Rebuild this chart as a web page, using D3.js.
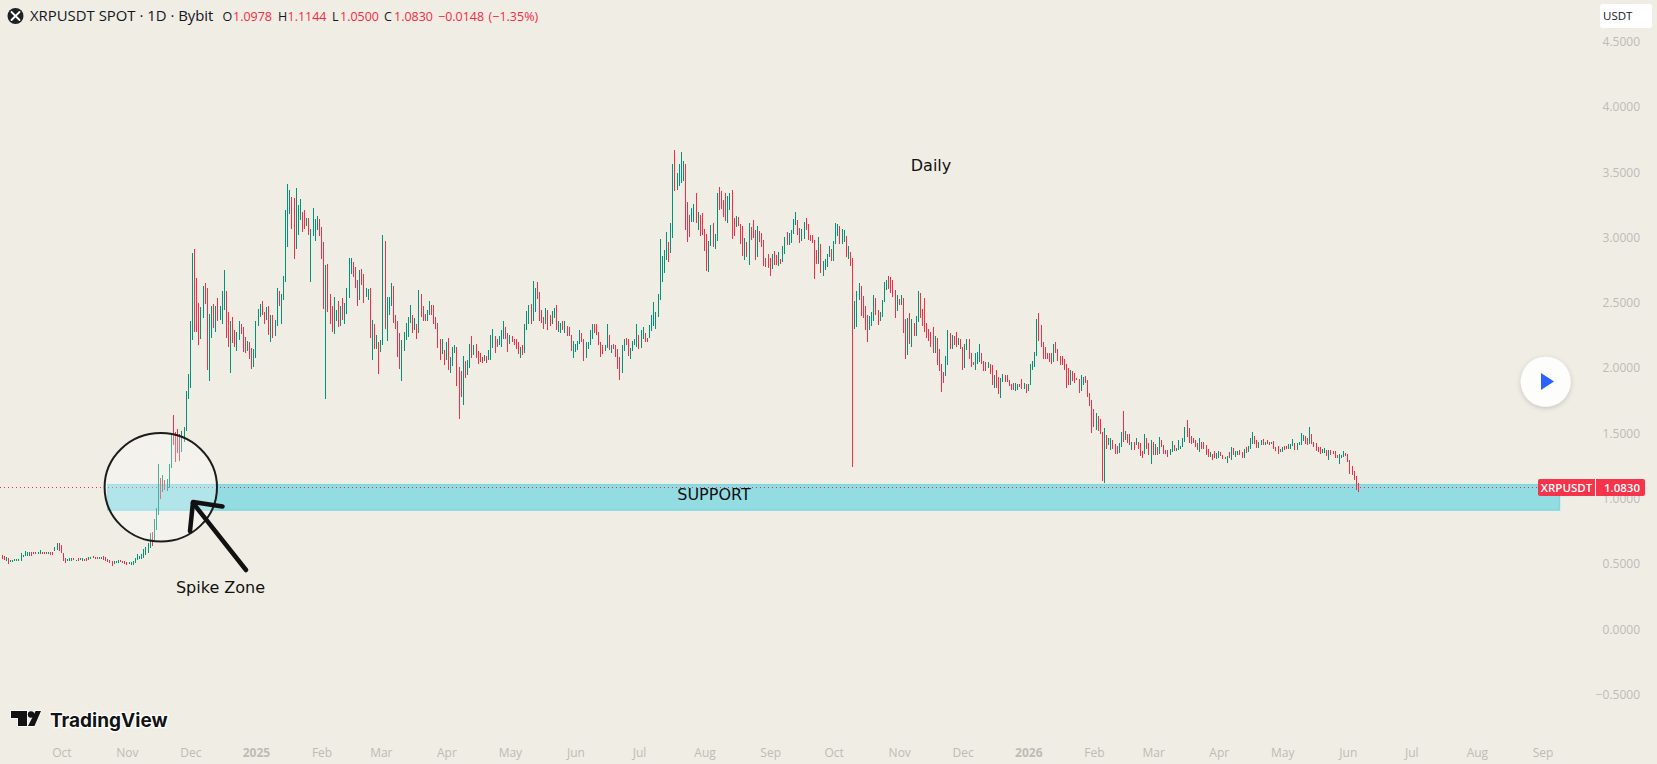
<!DOCTYPE html>
<html>
<head>
<meta charset="utf-8">
<script src="https://cdn.jsdelivr.net/npm/d3@7/dist/d3.min.js"></script>
<style>
  html, body { margin: 0; padding: 0; background: #f0ede5; overflow: hidden; }
  svg { display: block; font-family: "Open Sans", "Noto Sans", sans-serif; }
</style>
</head>
<body>
<svg id="chart" width="1657" height="764"></svg>
<script>
// Daily XRPUSDT ranges, one entry per session starting 2024-09-02
const highs = [
.567,.567,.561,.549,.546,.528,.531,.533,.536,.536,
.579,.569,.597,.590,.590,.590,.587,.592,.590,.607,
.592,.592,.590,.590,.587,.592,.630,.659,.654,.641,
.579,.541,.536,.541,.541,.544,.528,.544,.541,.541,
.538,.541,.554,.554,.559,.554,.551,.551,.549,.559,
.554,.536,.528,.523,.518,.523,.528,.526,.520,.520,
.510,.513,.510,.523,.546,.574,.559,.572,.613,.630,
.656,.733,.741,.843,.928,1.265,1.155,1.181,1.140,1.150,
1.265,1.493,1.634,1.511,1.531,1.496,1.519,1.549,1.818,1.955,
2.354,2.875,2.906,2.684,2.492,2.461,2.622,2.645,2.607,2.415,
2.469,2.484,2.476,2.530,2.476,2.591,2.745,2.591,2.430,2.354,
2.392,2.292,2.277,2.354,2.331,2.315,2.238,2.208,2.200,2.154,
2.146,2.354,2.453,2.484,2.507,2.430,2.461,2.469,2.400,2.400,
2.369,2.607,2.584,2.568,2.699,3.205,3.405,3.359,3.305,3.297,
3.374,3.244,3.290,3.190,3.205,3.144,3.144,3.060,3.221,3.136,
3.159,3.136,3.075,2.960,2.783,2.791,2.568,2.469,2.545,2.438,
2.507,2.476,2.530,2.499,2.607,2.837,2.837,2.806,2.768,2.668,
2.745,2.753,2.714,2.607,2.599,2.614,2.369,2.331,2.254,2.200,
2.215,3.014,2.967,2.538,2.538,2.645,2.622,2.407,2.354,2.262,
2.215,2.277,2.346,2.392,2.477,2.407,2.377,2.338,2.592,2.561,
2.469,2.415,2.438,2.507,2.477,2.477,2.392,2.346,2.223,2.216,
2.139,2.200,2.231,2.085,2.162,2.177,2.162,2.008,1.978,2.093,
2.054,2.062,2.185,2.246,2.177,2.185,2.131,2.116,2.085,2.101,
2.093,2.139,2.254,2.300,2.239,2.216,2.246,2.292,2.361,2.315,
2.262,2.254,2.239,2.223,2.216,2.200,2.162,2.170,2.331,2.431,
2.477,2.484,2.661,2.607,2.653,2.576,2.438,2.392,2.454,2.438,
2.407,2.431,2.454,2.477,2.361,2.346,2.361,2.354,2.323,2.315,
2.254,2.208,2.185,2.208,2.285,2.262,2.223,2.193,2.193,2.292,
2.331,2.331,2.338,2.277,2.193,2.177,2.177,2.338,2.254,2.177,
2.185,2.177,2.147,2.085,2.170,2.216,2.231,2.216,2.154,2.208,
2.223,2.331,2.254,2.292,2.315,2.269,2.231,2.33,2.40,2.50,
2.430,2.568,2.983,2.852,2.898,3.036,2.960,3.105,3.558,3.666,
3.489,3.558,3.650,3.581,3.558,3.267,3.167,3.220,3.251,3.336,
3.190,3.167,3.182,3.059,3.021,2.967,3.090,3.105,3.021,3.336,
3.382,3.351,3.282,3.336,3.313,3.336,3.359,3.144,3.159,3.151,
3.098,3.082,2.990,2.960,3.105,3.075,3.128,3.052,3.082,3.044,
3.029,2.975,2.837,2.867,2.837,2.867,2.890,2.860,2.883,2.829,
2.929,2.998,3.036,3.029,3.052,3.136,3.190,3.128,3.067,3.059,
3.113,3.144,3.098,3.013,3.013,2.975,2.898,2.998,2.944,2.814,
2.829,2.867,2.929,2.906,2.967,3.105,3.098,3.082,3.059,3.052,
3.006,2.929,2.883,2.837,2.508,2.584,2.646,2.623,2.546,2.469,
2.400,2.393,2.423,2.554,2.531,2.439,2.423,2.515,2.653,2.669,
2.700,2.692,2.669,2.592,2.554,2.523,2.554,2.531,2.370,2.377,
2.416,2.370,2.339,2.393,2.584,2.569,2.446,2.531,2.339,2.300,
2.277,2.308,2.239,2.224,2.147,2.032,1.970,2.086,2.285,2.262,
2.254,2.239,2.277,2.224,2.216,2.162,2.185,2.216,2.216,2.116,
2.047,2.109,2.124,2.178,2.109,2.055,2.047,2.047,2.032,2.017,
1.947,1.986,1.932,1.924,1.955,1.947,1.947,1.909,1.878,1.886,
1.886,1.878,1.878,1.917,1.886,1.878,1.878,2.032,2.055,2.124,
2.370,2.416,2.324,2.193,2.162,2.109,2.109,2.109,2.185,2.193,
2.147,2.086,2.086,2.070,2.032,1.994,1.986,1.971,1.963,1.924,
1.917,1.947,1.932,1.940,1.909,1.810,1.756,1.680,1.656,1.633,
1.610,1.511,1.541,1.488,1.465,1.465,1.449,1.419,1.403,1.426,
1.511,1.672,1.518,1.495,1.495,1.434,1.434,1.465,1.434,1.426,
1.365,1.495,1.465,1.426,1.449,1.434,1.419,1.396,1.472,1.449,
1.411,1.373,1.373,1.380,1.442,1.411,1.388,1.449,1.403,1.465,
1.549,1.603,1.541,1.480,1.465,1.449,1.426,1.465,1.434,1.434,
1.411,1.380,1.357,1.342,1.365,1.350,1.365,1.357,1.334,1.319,
1.327,1.357,1.396,1.388,1.365,1.365,1.373,1.357,1.380,1.396,
1.403,1.465,1.511,1.480,1.449,1.434,1.449,1.457,1.434,1.449,
1.434,1.434,1.442,1.396,1.403,1.380,1.396,1.403,1.403,1.419,
1.419,1.457,1.426,1.426,1.434,1.503,1.488,1.480,1.465,1.549,
1.495,1.434,1.426,1.396,1.396,1.380,1.388,1.373,1.373,1.373,
1.365,1.365,1.334,1.342,1.334,1.365,1.350,1.342,1.296,1.250,
1.211,1.173,1.1144
];
const lows = [
.541,.533,.528,.523,.500,.510,.515,.518,.520,.520,
.520,.554,.559,.559,.559,.561,.572,.574,.574,.574,
.574,.574,.572,.572,.567,.569,.595,.605,.600,.579,
.518,.508,.518,.520,.523,.526,.518,.520,.526,.523,
.523,.518,.526,.533,.541,.538,.533,.536,.533,.528,
.523,.510,.503,.485,.497,.503,.508,.513,.503,.500,
.492,.495,.490,.492,.508,.526,.533,.538,.544,.564,
.584,.618,.636,.682,.759,.874,.997,1.045,1.066,1.053,
1.079,1.235,1.411,1.276,1.350,1.283,1.352,1.429,1.519,1.763,
1.847,2.215,2.277,2.277,2.177,2.223,2.384,2.484,1.985,1.901,
2.231,2.307,2.277,2.354,2.369,2.331,2.438,2.231,2.162,1.962,
2.192,2.162,2.131,2.215,2.261,2.123,2.116,2.131,2.070,1.993,
2.008,2.077,2.323,2.392,2.400,2.331,2.369,2.254,2.200,2.231,
2.246,2.323,2.469,2.331,2.515,2.653,2.921,3.175,3.060,2.829,
2.906,3.014,3.129,3.037,3.060,3.083,3.014,2.653,3.006,2.967,
3.052,3.006,2.829,2.453,1.763,2.423,2.338,2.277,2.261,2.354,
2.315,2.323,2.369,2.331,2.415,2.530,2.714,2.691,2.607,2.469,
2.515,2.630,2.499,2.545,2.522,2.231,2.062,2.146,2.146,1.955,
2.123,2.177,2.300,2.208,2.407,2.469,2.346,2.300,2.085,1.993,
1.901,2.131,2.215,2.238,2.346,2.269,2.285,2.223,2.262,2.392,
2.354,2.361,2.361,2.407,2.407,2.331,2.300,2.154,2.062,2.108,
2.024,2.062,1.985,1.962,2.016,2.116,1.863,1.609,1.778,1.717,
1.924,1.947,2.001,2.078,2.101,2.078,2.031,2.047,2.039,2.054,
2.039,2.062,2.062,2.154,2.116,2.162,2.170,2.162,2.216,2.223,
2.124,2.185,2.200,2.177,2.147,2.108,2.078,2.101,2.116,2.285,
2.338,2.331,2.354,2.423,2.523,2.354,2.346,2.300,2.331,2.285,
2.323,2.331,2.384,2.285,2.277,2.269,2.292,2.269,2.246,2.239,
2.131,2.078,2.124,2.139,2.185,2.193,2.054,2.078,2.147,2.170,
2.223,2.262,2.254,2.170,2.085,2.108,2.131,2.154,2.139,2.116,
2.147,2.085,1.993,1.909,1.962,2.131,2.170,2.093,2.070,2.131,
2.177,2.162,2.147,2.154,2.223,2.193,2.200,2.23,2.28,2.32,
2.30,2.392,2.515,2.660,2.722,2.821,2.806,2.875,2.990,3.351,
3.359,3.389,3.412,3.428,3.052,2.960,2.998,3.113,3.113,3.105,
3.052,3.006,3.013,2.890,2.737,2.729,2.929,2.921,2.906,2.967,
3.205,3.213,3.151,3.121,3.105,3.205,2.983,3.006,3.075,3.082,
2.944,2.852,2.821,2.844,2.783,2.975,2.990,2.821,2.844,2.960,
2.921,2.775,2.768,2.760,2.699,2.752,2.783,2.783,2.775,2.791,
2.806,2.867,2.937,2.937,2.952,3.021,3.090,3.013,2.952,2.967,
2.983,3.052,2.975,2.967,2.952,2.676,2.791,2.791,2.722,2.699,
2.745,2.768,2.844,2.814,2.814,2.944,3.006,2.944,2.944,2.960,
2.844,2.829,2.775,1.241,2.293,2.308,2.515,2.393,2.377,2.285,
2.193,2.285,2.316,2.354,2.400,2.324,2.354,2.385,2.500,2.592,
2.600,2.569,2.538,2.377,2.431,2.477,2.477,2.262,2.070,2.101,
2.178,2.155,2.239,2.239,2.347,2.377,2.316,2.277,2.224,2.208,
2.155,2.116,2.109,2.024,1.978,1.817,1.886,1.940,2.024,2.147,
2.147,2.170,2.155,2.170,2.147,1.986,1.994,2.139,2.070,2.009,
2.017,1.986,2.032,2.040,2.032,1.978,1.971,2.001,1.955,1.871,
1.848,1.848,1.802,1.771,1.894,1.894,1.894,1.863,1.832,1.832,
1.825,1.832,1.855,1.840,1.840,1.809,1.825,1.871,1.986,2.009,
2.086,2.208,2.155,2.070,2.063,2.070,2.047,2.032,2.047,2.109,
2.055,2.024,2.024,1.986,1.848,1.871,1.871,1.901,1.886,1.909,
1.809,1.825,1.871,1.886,1.779,1.710,1.503,1.549,1.526,1.518,
1.495,1.135,1.119,1.380,1.411,1.373,1.380,1.342,1.342,1.350,
1.396,1.434,1.449,1.426,1.411,1.373,1.373,1.411,1.380,1.327,
1.311,1.342,1.380,1.334,1.265,1.334,1.334,1.334,1.342,1.396,
1.342,1.342,1.319,1.334,1.357,1.365,1.365,1.373,1.380,1.396,
1.434,1.472,1.426,1.419,1.426,1.396,1.373,1.357,1.380,1.380,
1.334,1.319,1.319,1.296,1.311,1.304,1.311,1.327,1.304,1.304,
1.273,1.311,1.296,1.334,1.319,1.334,1.334,1.311,1.311,1.350,
1.357,1.380,1.419,1.419,1.388,1.388,1.411,1.411,1.411,1.419,
1.411,1.419,1.380,1.365,1.342,1.357,1.357,1.373,1.380,1.380,
1.380,1.403,1.373,1.373,1.411,1.411,1.442,1.419,1.411,1.419,
1.419,1.396,1.365,1.357,1.342,1.350,1.350,1.327,1.296,1.334,
1.342,1.311,1.311,1.265,1.311,1.319,1.327,1.281,1.188,1.181,
1.142,1.066,1.0500
];
// u = closed higher, d = closed lower; ten sessions per string
const directions = [
"udduduuuuu","uuuuuddduu","dduudduudd","dduuududuu","dduuddduud",
"dddduuuddd","duuuuuuuuu","uuduuududu","uudddduuuu","uuddduuddu",
"ududuuuddu","dduudddudd","uuuuddudud","uuduuuuudd","uuudduduuu",
"uddduddduu","duduuuuddd","udduududud","uuduuudddd","uuuuududud",
"dduudddddu","duduuudddu","duududdddu","duuudduuud","dudddduduu",
"uduuddddud","duuduududd","duuuudduuu","uddddduudu","dddduudduu",
"uuduudduuu","uuuuuuduud","uuuuddduud","udddduuduu","dddduuddud",
"ddududddud","ddddduddud","uuduuuuddu","uddddddudu","uuuduuuduu",
"dudduuuddd","duuudduuuu","ddddududdu","duduuddddd","ddudddduud",
"uddudduudd","duuudddudd","udduuddddd","uudduduuuu","udddddddud",
"dddddduddd","duudddddud","dduduudddu","ududdududd","duddududud",
"ddduuduuuu","uddddddudd","ddudduuddd","ududuuddud","uuudduudud",
"duddduuddu","uuduuuuddu","ddddduudud","ddduuudddd","ddd"
].join("");

const priceTicks = [4.5, 4, 3.5, 3, 2.5, 2, 1.5, 1, 0.5, 0, -0.5];
const monthTicks = ["2024-10-01","2024-11-01","2024-12-01","2025-01-01","2025-02-01","2025-03-01",
  "2025-04-01","2025-05-01","2025-06-01","2025-07-01","2025-08-01","2025-09-01","2025-10-01",
  "2025-11-01","2025-12-01","2026-01-01","2026-02-01","2026-03-01","2026-04-01","2026-05-01",
  "2026-06-01","2026-07-01","2026-08-01","2026-09-01"].map(d => new Date(d + "T00:00:00Z"));
const quote = { open: "1.0978", high: "1.1144", low: "1.0500", close: "1.0830", change: "−0.0148", percent: "(−1.35%)" };
const lastPrice = 1.083;
const supportTop = 1.104, supportBottom = 0.91;
const supportStart = new Date("2024-10-23T00:00:00Z"), supportEnd = new Date("2026-09-09T00:00:00Z");
const firstSession = Date.UTC(2024, 8, 2);
const DAY = 864e5;

const UP = "#00937a", DOWN = "#f92a43", AXIS = "#bdbcb6";

const svg = d3.select("#chart");

const x = d3.scaleUtc()
  .domain([new Date("2024-10-01T00:00:00Z"), new Date("2026-09-01T00:00:00Z")])
  .range([61.3, 1542.5]);
const y = d3.scaleLinear().domain([-0.5, 4.5]).range([694.2, 41.2]);

// Price and time axes: bare labels, no rules
const yAxis = d3.axisRight(y).tickValues(priceTicks).tickSize(0).tickFormat(d3.format(".4f"));
const yg = svg.append("g").attr("transform", "translate(1640,0)").call(yAxis);
yg.select(".domain").remove();
yg.selectAll("text").attr("x", 0).attr("text-anchor", "end").attr("dy", "0.35em")
  .attr("font-size", 12).attr("fill", AXIS).attr("font-family", '"Open Sans", sans-serif');

const monthFormat = d3.utcFormat("%b");
const xAxis = d3.axisBottom(x).tickValues(monthTicks).tickSize(0)
  .tickFormat(d => d.getUTCMonth() === 0 ? String(d.getUTCFullYear()) : monthFormat(d));
const xg = svg.append("g").attr("transform", "translate(0,752.5)").call(xAxis);
xg.select(".domain").remove();
xg.selectAll("text").attr("y", 0).attr("dy", "0.35em")
  .attr("font-size", 12).attr("fill", AXIS).attr("font-family", '"Open Sans", sans-serif')
  .attr("font-weight", d => d.getUTCMonth() === 0 ? 700 : 400);

// Support band
svg.append("rect")
  .attr("x", x(supportStart)).attr("width", x(supportEnd) - x(supportStart))
  .attr("y", y(supportTop)).attr("height", y(supportBottom) - y(supportTop))
  .attr("fill", "#93dce2").attr("stroke", "#7fd8e1").attr("stroke-width", 1.5);

// Daily range bars, snapped to whole pixels
const bars = d3.range(Math.min(highs.length, lows.length)).map(i => ({
  date: new Date(firstSession + i * DAY), high: highs[i], low: lows[i], up: directions[i] === "u"
}));
svg.append("g").selectAll("rect").data(bars).join("rect")
  .attr("x", d => Math.floor(x(d.date)))
  .attr("width", 1)
  .attr("y", d => Math.round(y(d.high)))
  .attr("height", d => Math.max(1, Math.round(y(d.low)) - Math.round(y(d.high))))
  .attr("fill", d => d.up ? UP : DOWN)
  .attr("shape-rendering", "crispEdges");

// Last price line
svg.append("line")
  .attr("x1", 0).attr("x2", 1538).attr("y1", Math.round(y(lastPrice)) + 0.5).attr("y2", Math.round(y(lastPrice)) + 0.5)
  .attr("stroke", DOWN).attr("stroke-width", 1).attr("stroke-dasharray", "1 3");

// Hand-drawn circle and arrow around the spike
svg.append("ellipse")
  .attr("cx", 160.8).attr("cy", 487.3).attr("rx", 56.2).attr("ry", 54.2)
  .attr("fill", "rgba(255,255,255,0.28)").attr("stroke", "#1c1c1c").attr("stroke-width", 2);
const arrow = d3.line();
svg.append("path").attr("d", arrow([[246, 570], [193, 503]]))
  .attr("fill", "none").attr("stroke", "#111").attr("stroke-width", 4.5).attr("stroke-linecap", "round");
svg.append("path").attr("d", arrow([[222.5, 506.5], [193, 502], [190, 531]]))
  .attr("fill", "none").attr("stroke", "#111").attr("stroke-width", 4.5)
  .attr("stroke-linecap", "round").attr("stroke-linejoin", "round");

// Chart annotations
const note = (text, cx, cy) => svg.append("text").text(text)
  .attr("x", cx).attr("y", cy).attr("dy", "0.35em").attr("text-anchor", "middle")
  .attr("font-family", '"DejaVu Sans", sans-serif').attr("font-size", 16).attr("fill", "#111");
note("Spike Zone", 220.5, 587);
note("Daily", 931, 165);
note("SUPPORT", 714, 494);

// Symbol header
svg.append("circle").attr("cx", 15.5).attr("cy", 16).attr("r", 8).attr("fill", "#1f2123");
svg.append("path").attr("d", "M11.5 12 L19.5 20 M19.5 12 L11.5 20")
  .attr("stroke", "#fff").attr("stroke-width", 1.8).attr("stroke-linecap", "round");
svg.append("text").text("XRPUSDT SPOT · 1D · Bybit")
  .attr("x", 30).attr("y", 21).attr("font-size", 14.9).attr("fill", "#131722");
const quoteParts = [
  ["O", 222.5, "#131722"], [quote.open, 233, DOWN],
  ["H", 278, "#131722"], [quote.high, 287.5, DOWN],
  ["L", 332, "#131722"], [quote.low, 340, DOWN],
  ["C", 384, "#131722"], [quote.close, 394, DOWN],
  [quote.change, 438, DOWN], [quote.percent, 488.6, DOWN]
];
svg.append("g").selectAll("text").data(quoteParts).join("text")
  .text(d => d[0]).attr("x", d => d[1]).attr("y", 21)
  .attr("font-size", 12.5).attr("fill", d => d[2]);

// Currency chip
svg.append("rect").attr("x", 1600).attr("y", 4).attr("width", 52).attr("height", 24).attr("rx", 3).attr("fill", "#fff");
svg.append("text").text("USDT").attr("x", 1603).attr("y", 20).attr("font-size", 11.5).attr("fill", "#131722");

// Last price tag
const tagY = Math.round(y(lastPrice));
svg.append("rect").attr("x", 1538).attr("y", tagY - 8).attr("width", 107).attr("height", 17).attr("rx", 2).attr("fill", "#f5334a");
svg.append("rect").attr("x", 1595).attr("y", tagY - 8).attr("width", 1).attr("height", 17).attr("fill", "#fff");
svg.append("text").text("XRPUSDT").attr("x", 1566.5).attr("y", tagY + 0.5).attr("dy", "0.35em")
  .attr("text-anchor", "middle").attr("font-size", 11.5).attr("font-weight", 600).attr("fill", "#fff");
svg.append("text").text(quote.close).attr("x", 1640).attr("y", tagY + 0.5).attr("dy", "0.35em")
  .attr("text-anchor", "end").attr("font-size", 11.5).attr("font-weight", 600).attr("fill", "#fff");

// Replay button
const defs = svg.append("defs");
const shadow = defs.append("filter").attr("id", "soft").attr("x", "-30%").attr("y", "-30%").attr("width", "160%").attr("height", "160%");
shadow.append("feDropShadow").attr("dx", 0).attr("dy", 1.5).attr("stdDeviation", 2.5)
  .attr("flood-color", "#000").attr("flood-opacity", 0.18);
svg.append("circle").attr("cx", 1545.7).attr("cy", 381.7).attr("r", 25).attr("fill", "#fdfdfc").attr("filter", "url(#soft)");
svg.append("path").attr("d", "M1541 373 L1554 381.5 L1541 390 Z").attr("fill", "#2962ff");

// Wordmark
svg.append("path").attr("d", "M11 711 H27 V726 H18 V718 H11 Z M35.5 711 H41 L34.5 726 H28 Z")
  .attr("fill", "#131313").attr("stroke", "#fff").attr("stroke-width", 1.5).attr("paint-order", "stroke");
svg.append("circle").attr("cx", 31).attr("cy", 714.5).attr("r", 3.2).attr("fill", "#131313");
svg.append("text").text("TradingView").attr("x", 50).attr("y", 720).attr("dy", "0.35em")
  .attr("font-family", 'Inter, sans-serif').attr("font-weight", 700).attr("font-size", 19)
  .attr("fill", "#131313").attr("stroke", "#fff").attr("stroke-width", 2.5).attr("paint-order", "stroke");
</script>
</body>
</html>
